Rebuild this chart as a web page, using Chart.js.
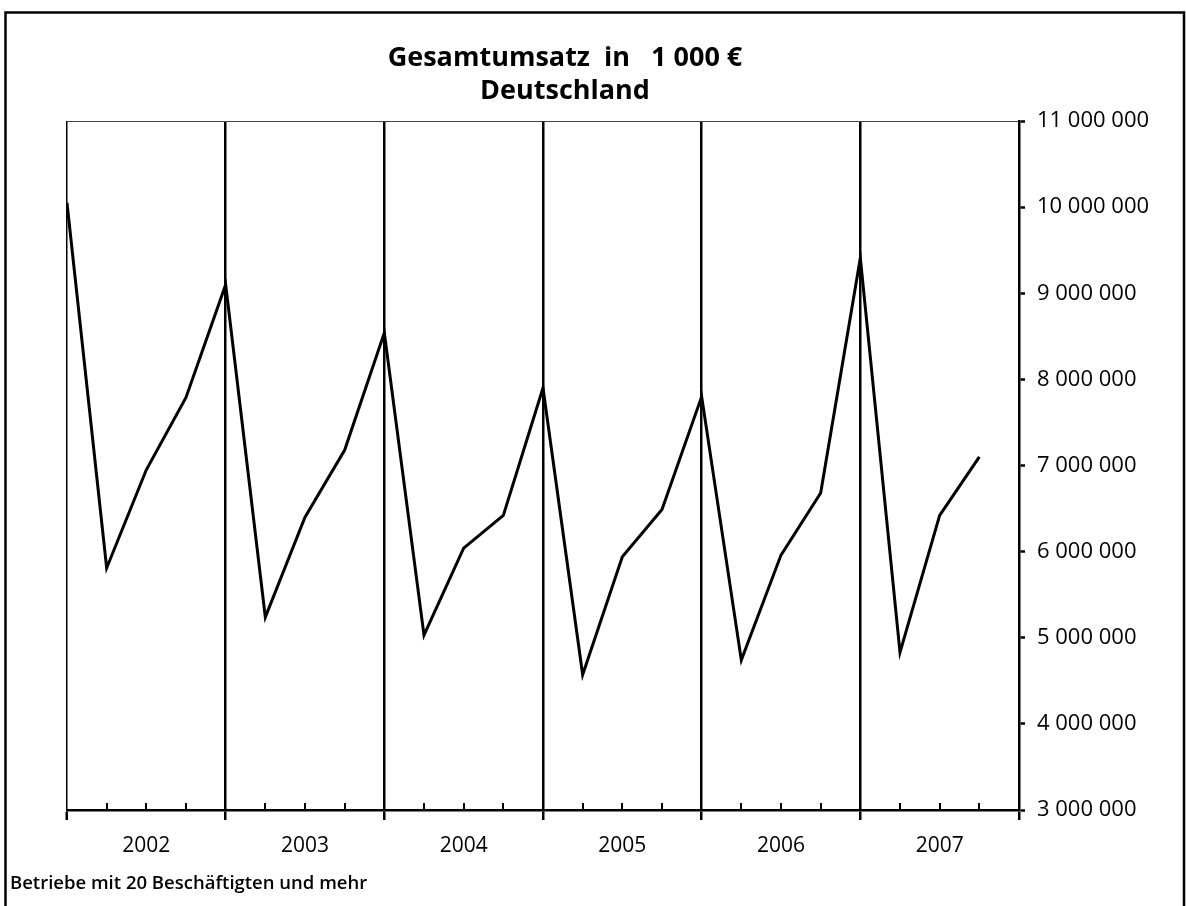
<!DOCTYPE html>
<html lang="de">
<head>
<meta charset="utf-8">
<title>Gesamtumsatz in 1 000 € – Deutschland</title>
<script src="https://cdn.jsdelivr.net/npm/chart.js@4.4.1/dist/chart.umd.min.js"></script>
<style>
  html, body { margin: 0; padding: 0; background: #fff; }
  #wrap { position: relative; width: 1186px; height: 906px; }
</style>
</head>
<body>
<div id="wrap"><canvas id="chartUmsatz"></canvas></div>
<script>
// Gesamtumsatz Deutschland, quartalsweise 2002-2007 (Werte in 1 000 €)
const years = ['2002', '2003', '2004', '2005', '2006', '2007'];
const umsatz = [
  10050000, 5810000, 6950000, 7790000,
  9100000, 5240000, 6400000, 7180000,
  8540000, 5030000, 6040000, 6420000,
  7900000, 4570000, 5940000, 6490000,
  7800000, 4740000, 5960000, 6680000,
  9410000, 4830000, 6420000, 7100000
];
const yTicks = [3000000, 4000000, 5000000, 6000000, 7000000, 8000000, 9000000, 10000000, 11000000];

const titleLines = ['Gesamtumsatz  in   1 000 €', 'Deutschland'];
const footnote = 'Betriebe mit 20 Beschäftigten und mehr';

const FONT = '"Open Sans", "DejaVu Sans", sans-serif';

function fmt(v) {
  return String(v).replace(/\B(?=(\d{3})+(?!\d))/g, ' ');
}

// Rahmen, Titel, Fußnote und kleine Quartals-Striche
const decoPlugin = {
  id: 'deco',
  afterDraw(chart) {
    const ctx = chart.ctx;
    const xs = chart.scales.x;
    const area = chart.chartArea;
    ctx.save();

    // Quartalsstriche nach innen
    ctx.strokeStyle = '#000';
    ctx.lineWidth = 2;
    for (let i = 1; i < years.length * 4; i++) {
      if (i % 4 === 0) continue;
      const px = Math.round(xs.getPixelForValue(i));
      ctx.beginPath();
      ctx.moveTo(px, area.bottom);
      ctx.lineTo(px, area.bottom - 7);
      ctx.stroke();
    }

    // äußerer Rahmen
    ctx.lineWidth = 2.5;
    ctx.beginPath();
    ctx.moveTo(5.5, 910);
    ctx.lineTo(5.5, 12.5);
    ctx.lineTo(1184, 12.5);
    ctx.lineTo(1184, 910);
    ctx.stroke();

    // Titel
    ctx.fillStyle = '#000';
    ctx.textAlign = 'center';
    ctx.textBaseline = 'alphabetic';
    ctx.font = 'bold 27px ' + FONT;
    ctx.fillText(titleLines[0], 565, 66);
    ctx.fillText(titleLines[1], 565, 99);

    // Fußnote
    ctx.textAlign = 'left';
    ctx.font = '600 18.5px ' + FONT;
    ctx.fillText(footnote, 10, 889);
    ctx.restore();
  }
};

const ctx = document.getElementById('chartUmsatz').getContext('2d');
new Chart(ctx, {
  type: 'line',
  data: {
    datasets: [{
      label: 'Gesamtumsatz',
      data: umsatz.map((v, i) => ({ x: i, y: v })),
      borderColor: '#000',
      borderWidth: 3,
      pointRadius: 0,
      tension: 0,
      fill: false
    }]
  },
  options: {
    responsive: true,
    maintainAspectRatio: false,
    animation: false,
    layout: { padding: { left: 67, top: 121, right: 0, bottom: 0 } },
    plugins: {
      legend: { display: false },
      tooltip: { enabled: false }
    },
    scales: {
      x: {
        type: 'linear',
        min: 0,
        max: years.length * 4,
        afterFit(scale) { scale.height = 96; },
        border: { display: true, color: '#000', width: 2.5 },
        grid: {
          drawOnChartArea: true,
          color: c => (c.tick && c.tick.value % 4 === 0 && c.tick.value < 24) ? '#000' : 'transparent',
          lineWidth: c => (c.tick && c.tick.value === 0) ? 1.5 : 2.5,
          tickColor: c => (c.tick && c.tick.value % 4 === 0) ? '#000' : 'transparent',
          tickLength: 10,
          tickWidth: 2.5
        },
        ticks: {
          stepSize: 1,
          autoSkip: false,
          maxRotation: 0,
          padding: 13,
          color: '#000',
          font: { family: FONT, size: 21 },
          callback: v => (v % 4 === 2) ? years[(v - 2) / 4] : ''
        }
      },
      y: {
        position: 'right',
        min: yTicks[0],
        max: yTicks[yTicks.length - 1],
        afterFit(scale) { scale.width = 167; },
        afterBuildTicks(scale) { scale.ticks = yTicks.map(v => ({ value: v })); },
        border: { display: true, color: '#000', width: 2.5 },
        grid: {
          drawOnChartArea: true,
          color: c => (c.tick && c.tick.value === 11000000) ? '#444' : 'transparent',
          lineWidth: 1,
          tickColor: '#000',
          tickLength: 6,
          tickWidth: 2.5
        },
        ticks: {
          padding: 12,
          color: '#000',
          font: { family: FONT, size: 22 },
          callback: v => fmt(v)
        }
      }
    }
  },
  plugins: [decoPlugin]
});
</script>
</body>
</html>
